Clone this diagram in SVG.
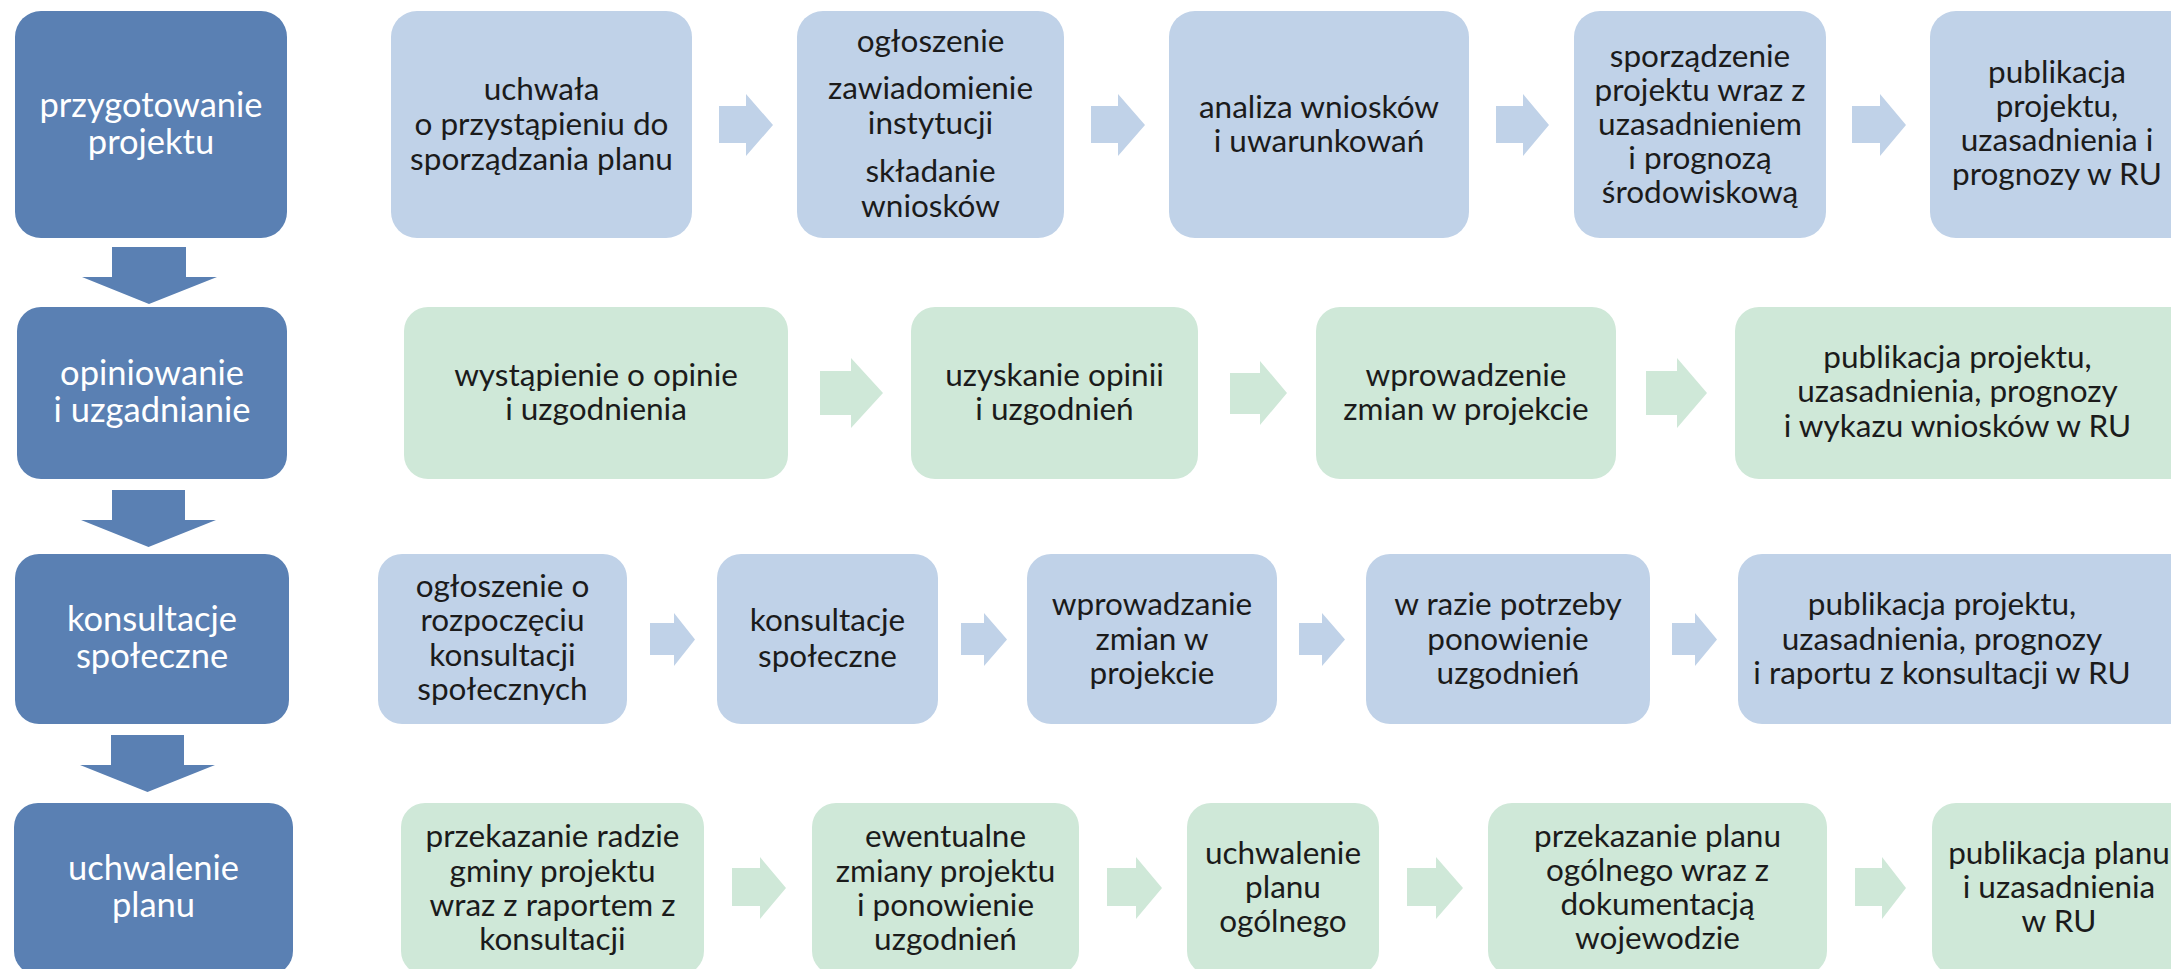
<svg xmlns="http://www.w3.org/2000/svg" width="2171" height="969" viewBox="0 0 2171 969">
<style>
.dk{fill:#5A80B3}
.lb{fill:#C0D2E8}
.lg{fill:#CFE8D8}
text{font-family:Lato,"Open Sans","Liberation Sans",sans-serif;font-size:31.5px;text-anchor:middle;fill:#1b1b1b}
.w{fill:#ffffff;font-size:34.5px}
</style>
<rect width="2171" height="969" fill="#ffffff"/>
<g id="connectors">
<path class="dk" d="M112,247H186V277H217L149,304L82,277H112Z"/>
<path class="dk" d="M112,490H185V520H216L148.5,547L81,520H112Z"/>
<path class="dk" d="M111,735H184V765H215L147.5,792L80,765H111Z"/>
<path class="lb" d="M719,106H746V94L773,125L746,156V143H719Z"/>
<path class="lb" d="M1091,106H1118V94L1145,125L1118,156V143H1091Z"/>
<path class="lb" d="M1496,106H1523V94L1549,125L1523,156V143H1496Z"/>
<path class="lb" d="M1852,106H1880V94L1906,125L1880,156V143H1852Z"/>
<path class="lg" d="M820,371H851V358L883,393L851,428V415H820Z"/>
<path class="lg" d="M1230,373H1260V361L1287,393L1260,425V414H1230Z"/>
<path class="lg" d="M1646,371H1677V358L1707,393L1677,428V415H1646Z"/>
<path class="lb" d="M650,623H674V613L695,639.5L674,666V655H650Z"/>
<path class="lb" d="M961,623H984V613L1007,639.5L984,666V655H961Z"/>
<path class="lb" d="M1299,623H1322V613L1345,639.5L1322,666V655H1299Z"/>
<path class="lb" d="M1672,623H1695V613L1717,639.5L1695,666V655H1672Z"/>
<path class="lg" d="M732,868H760V857L786,888L760,919V906H732Z"/>
<path class="lg" d="M1107,868H1136V857L1162,888L1136,919V906H1107Z"/>
<path class="lg" d="M1407,868H1436V857L1463,888L1436,919V906H1407Z"/>
<path class="lg" d="M1855,868H1882V857L1906,888L1882,919V906H1855Z"/>
</g>
<g id="r1-head"><rect class="dk" x="15" y="11" width="272" height="227" rx="26"/>
<text class="w"><tspan x="151" y="117">przygotowanie</tspan><tspan x="151" y="154">projektu</tspan></text></g>
<g id="r1-n1"><rect class="lb" x="391" y="11" width="301" height="227" rx="26"/>
<text><tspan x="541.5" y="100">uchwała</tspan><tspan x="541.5" y="135">o przystąpieniu do</tspan><tspan x="541.5" y="170">sporządzania planu</tspan></text></g>
<g id="r1-n2"><rect class="lb" x="797" y="11" width="267" height="227" rx="26"/>
<text><tspan x="930.5" y="52">ogłoszenie</tspan><tspan x="930.5" y="99">zawiadomienie</tspan><tspan x="930.5" y="134">instytucji</tspan><tspan x="930.5" y="182">składanie</tspan><tspan x="930.5" y="217">wniosków</tspan></text></g>
<g id="r1-n3"><rect class="lb" x="1169" y="11" width="300" height="227" rx="26"/>
<text><tspan x="1319" y="118">analiza wniosków</tspan><tspan x="1319" y="152">i uwarunkowań</tspan></text></g>
<g id="r1-n4"><rect class="lb" x="1574" y="11" width="252" height="227" rx="26"/>
<text><tspan x="1700" y="67">sporządzenie</tspan><tspan x="1700" y="101">projektu wraz z</tspan><tspan x="1700" y="135">uzasadnieniem</tspan><tspan x="1700" y="169">i prognozą</tspan><tspan x="1700" y="203">środowiskową</tspan></text></g>
<g id="r1-n5"><rect class="lb" x="1930" y="11" width="280" height="227" rx="26"/>
<text><tspan x="2057" y="83">publikacja</tspan><tspan x="2057" y="117">projektu,</tspan><tspan x="2057" y="151">uzasadnienia i</tspan><tspan x="2057" y="185">prognozy w RU</tspan></text></g>
<g id="r2-head"><rect class="dk" x="17" y="307" width="270" height="172" rx="24"/>
<text class="w"><tspan x="152" y="385">opiniowanie</tspan><tspan x="152" y="422">i uzgadnianie</tspan></text></g>
<g id="r2-n1"><rect class="lg" x="404" y="307" width="384" height="172" rx="24"/>
<text><tspan x="596" y="386">wystąpienie o opinie</tspan><tspan x="596" y="420">i uzgodnienia</tspan></text></g>
<g id="r2-n2"><rect class="lg" x="911" y="307" width="287" height="172" rx="24"/>
<text><tspan x="1054.5" y="386">uzyskanie opinii</tspan><tspan x="1054.5" y="420">i uzgodnień</tspan></text></g>
<g id="r2-n3"><rect class="lg" x="1316" y="307" width="300" height="172" rx="24"/>
<text><tspan x="1466" y="386">wprowadzenie</tspan><tspan x="1466" y="420">zmian w projekcie</tspan></text></g>
<g id="r2-n4"><rect class="lg" x="1735" y="307" width="480" height="172" rx="24"/>
<text><tspan x="1957.5" y="368">publikacja projektu,</tspan><tspan x="1957.5" y="402">uzasadnienia, prognozy</tspan><tspan x="1957.5" y="437">i wykazu wniosków w RU</tspan></text></g>
<g id="r3-head"><rect class="dk" x="15" y="554" width="274" height="170" rx="24"/>
<text class="w"><tspan x="152" y="631">konsultacje</tspan><tspan x="152" y="668">społeczne</tspan></text></g>
<g id="r3-n1"><rect class="lb" x="378" y="554" width="249" height="170" rx="24"/>
<text><tspan x="502.5" y="597">ogłoszenie o</tspan><tspan x="502.5" y="631">rozpoczęciu</tspan><tspan x="502.5" y="666">konsultacji</tspan><tspan x="502.5" y="700">społecznych</tspan></text></g>
<g id="r3-n2"><rect class="lb" x="717" y="554" width="221" height="170" rx="24"/>
<text><tspan x="827.5" y="631">konsultacje</tspan><tspan x="827.5" y="667">społeczne</tspan></text></g>
<g id="r3-n3"><rect class="lb" x="1027" y="554" width="250" height="170" rx="24"/>
<text><tspan x="1152" y="615">wprowadzanie</tspan><tspan x="1152" y="650">zmian w</tspan><tspan x="1152" y="684">projekcie</tspan></text></g>
<g id="r3-n4"><rect class="lb" x="1366" y="554" width="284" height="170" rx="24"/>
<text><tspan x="1508" y="615">w razie potrzeby</tspan><tspan x="1508" y="650">ponowienie</tspan><tspan x="1508" y="684">uzgodnień</tspan></text></g>
<g id="r3-n5"><rect class="lb" x="1738" y="554" width="480" height="170" rx="24"/>
<text><tspan x="1942" y="615">publikacja projektu,</tspan><tspan x="1942" y="650">uzasadnienia, prognozy</tspan><tspan x="1942" y="684">i raportu z konsultacji w RU</tspan></text></g>
<g id="r4-head"><rect class="dk" x="14" y="803" width="279" height="172" rx="24"/>
<text class="w"><tspan x="153.5" y="880">uchwalenie</tspan><tspan x="153.5" y="917">planu</tspan></text></g>
<g id="r4-n1"><rect class="lg" x="401" y="803" width="303" height="172" rx="24"/>
<text><tspan x="552.5" y="847">przekazanie radzie</tspan><tspan x="552.5" y="882">gminy projektu</tspan><tspan x="552.5" y="916">wraz z raportem z</tspan><tspan x="552.5" y="950">konsultacji</tspan></text></g>
<g id="r4-n2"><rect class="lg" x="812" y="803" width="267" height="172" rx="24"/>
<text><tspan x="945.5" y="847">ewentualne</tspan><tspan x="945.5" y="882">zmiany projektu</tspan><tspan x="945.5" y="916">i ponowienie</tspan><tspan x="945.5" y="950">uzgodnień</tspan></text></g>
<g id="r4-n3"><rect class="lg" x="1187" y="803" width="192" height="172" rx="24"/>
<text><tspan x="1283" y="864">uchwalenie</tspan><tspan x="1283" y="898">planu</tspan><tspan x="1283" y="932">ogólnego</tspan></text></g>
<g id="r4-n4"><rect class="lg" x="1488" y="803" width="339" height="172" rx="24"/>
<text><tspan x="1657.5" y="847">przekazanie planu</tspan><tspan x="1657.5" y="881">ogólnego wraz z</tspan><tspan x="1657.5" y="915">dokumentacją</tspan><tspan x="1657.5" y="949">wojewodzie</tspan></text></g>
<g id="r4-n5"><rect class="lg" x="1932" y="803" width="280" height="172" rx="24"/>
<text><tspan x="2059" y="864">publikacja planu</tspan><tspan x="2059" y="898">i uzasadnienia</tspan><tspan x="2059" y="932">w RU</tspan></text></g>
</svg>
